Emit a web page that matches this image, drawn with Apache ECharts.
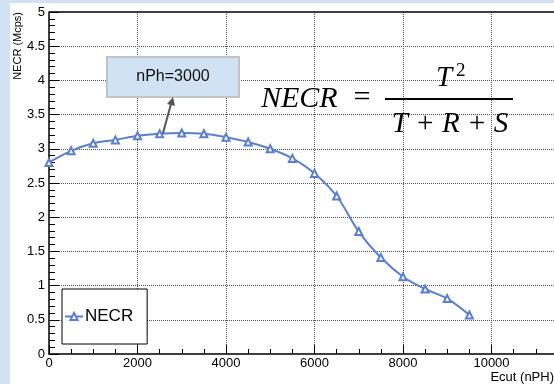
<!DOCTYPE html>
<html>
<head>
<meta charset="utf-8">
<script src="https://cdn.jsdelivr.net/npm/echarts@6/dist/echarts.min.js"></script>
<style>
  html, body { margin: 0; padding: 0; background: #fff; }
  #chart { width: 554px; height: 384px; }
</style>
</head>
<body>
<div id="chart"></div>
<script>
// Ecut (nPH) thresholds and the measured NECR (Mcps)
const ecut = [0, 500, 1000, 1500, 2000, 2500, 3000, 3500, 4000, 4500,
  5000, 5500, 6000, 6500, 7000, 7500, 8000, 8500, 9000, 9500];
const necr = [2.80, 2.97, 3.08, 3.13, 3.19, 3.22, 3.23, 3.22, 3.17, 3.10,
  3.00, 2.86, 2.64, 2.31, 1.79, 1.41, 1.13, 0.95, 0.81, 0.57];
const xTicks = [0, 2000, 4000, 6000, 8000, 10000];
const yTicks = [0, 0.5, 1, 1.5, 2, 2.5, 3, 3.5, 4, 4.5, 5];

const BLUE = '#5b7fd0';
const PANEL = '#d0e2f3';
const FONT = 'Liberation Sans';
const SERIF = 'Liberation Serif';

const chart = echarts.init(document.getElementById('chart'), null, { renderer: 'canvas' });

const option = {
  backgroundColor: '#fff',
  animation: false,
  // the axis runs to 12000 off the canvas, like the cropped original
  grid: { left: 49, right: -26, top: 12, bottom: 30, containLabel: false, outerBoundsMode: 'none' },
  xAxis: {
    type: 'value',
    min: 0,
    max: 12000,
    interval: 2000,
    axisLine: { lineStyle: { color: '#000', width: 1.5 } },
    axisTick: { inside: true, length: 9, lineStyle: { color: '#000' } },
    minorTick: { show: true, splitNumber: 4, length: 5, lineStyle: { color: '#000' } },
    axisLabel: {
      color: '#000', fontFamily: FONT, fontSize: 13, margin: 3,
      showMaxLabel: false,
      formatter: v => (xTicks.indexOf(v) >= 0 ? String(v) : '')
    },
    splitLine: {
      show: true, showMinLine: false, showMaxLine: false,
      lineStyle: { color: '#555', type: 'dotted', width: 1 }
    }
  },
  yAxis: {
    type: 'value',
    min: 0,
    max: 5,
    interval: 0.5,
    axisLine: { show: true, lineStyle: { color: '#000', width: 1.5 } },
    axisTick: { show: true, inside: true, length: 10, lineStyle: { color: '#000' } },
    minorTick: { show: true, splitNumber: 5, length: 6, lineStyle: { color: '#000' } },
    axisLabel: {
      color: '#000', fontFamily: FONT, fontSize: 13, margin: 4,
      formatter: v => (yTicks.indexOf(v) >= 0 ? String(v) : '')
    },
    splitLine: {
      show: true, showMinLine: false, showMaxLine: false,
      lineStyle: { color: '#555', type: 'dotted', width: 1 }
    }
  },
  legend: {
    left: 62,
    top: 289,
    orient: 'vertical',
    backgroundColor: '#fff',
    borderColor: '#000',
    borderWidth: 1,
    borderRadius: 0,
    padding: [19, 14, 19, 2],
    itemWidth: 18,
    itemHeight: 9,
    itemGap: 0,
    textStyle: { color: '#000', fontFamily: FONT, fontSize: 17, padding: [0, 0, 0, -3] },
    data: ['NECR']
  },
  series: [{
    name: 'NECR',
    type: 'line',
    data: ecut.map((x, i) => [x, necr[i]]),
    smooth: 0.35,
    symbol: 'emptyTriangle',
    symbolSize: 7,
    lineStyle: { color: BLUE, width: 2 },
    itemStyle: { color: BLUE, borderColor: BLUE, borderWidth: 1 },
    z: 3
  }],
  graphic: [
    // canvas strips round the pad
    { type: 'rect', shape: { x: 0, y: 0, width: 10, height: 384 }, style: { fill: PANEL }, z: 100 },
    { type: 'rect', shape: { x: 0, y: 0, width: 554, height: 3 }, style: { fill: PANEL }, z: 100 },
    // top frame
    { type: 'line', shape: { x1: 49, y1: 12, x2: 554, y2: 12 }, style: { stroke: '#000', lineWidth: 1.5 }, z: 100 },
    // axis titles
    {
      type: 'text', x: 18, y: 12, rotation: Math.PI / 2,
      style: { text: 'NECR (Mcps)', fill: '#000', font: '11px ' + FONT, align: 'right', verticalAlign: 'middle' }
    },
    {
      type: 'text', x: 554, y: 377,
      style: { text: 'Ecut (nPH)', fill: '#000', font: '13px ' + FONT, align: 'right', verticalAlign: 'middle' }
    },
    // annotation box and arrow
    {
      type: 'rect', shape: { x: 107, y: 57, width: 132, height: 40 },
      style: { fill: PANEL, stroke: '#c4c4c4', lineWidth: 2 }, z: 100
    },
    {
      type: 'text', x: 173, y: 77, z: 101,
      style: { text: 'nPh=3000', fill: '#111', font: '16px ' + FONT, align: 'center', verticalAlign: 'middle' }
    },
    { type: 'line', shape: { x1: 163, y1: 133, x2: 171, y2: 104 }, style: { stroke: '#555', lineWidth: 2 }, z: 100 },
    { type: 'polygon', shape: { points: [[173, 97], [175, 106], [167, 104]] }, style: { fill: '#555' }, z: 100 },
    // formula
    {
      type: 'text', x: 261, y: 99, z: 100,
      style: { text: 'NECR', fill: '#000', font: 'italic 30px ' + SERIF, align: 'left', verticalAlign: 'middle' }
    },
    {
      type: 'text', x: 362, y: 98, z: 100,
      style: { text: '=', fill: '#000', font: '30px ' + SERIF, align: 'center', verticalAlign: 'middle' }
    },
    {
      type: 'text', x: 444, y: 78, z: 100,
      style: { text: 'T', fill: '#000', font: 'italic 29px ' + SERIF, align: 'center', verticalAlign: 'middle' }
    },
    {
      type: 'text', x: 456, y: 71, z: 100,
      style: { text: '2', fill: '#000', font: '19px ' + SERIF, align: 'left', verticalAlign: 'middle' }
    },
    { type: 'line', shape: { x1: 385, y1: 99, x2: 513, y2: 99 }, style: { stroke: '#000', lineWidth: 2 }, z: 100 },
    {
      type: 'text', x: 450, y: 124, z: 100,
      style: { text: 'T + R + S', fill: '#000', font: 'italic 29px ' + SERIF, align: 'center', verticalAlign: 'middle' }
    }
  ]
};

chart.setOption(option);
</script>
</body>
</html>
